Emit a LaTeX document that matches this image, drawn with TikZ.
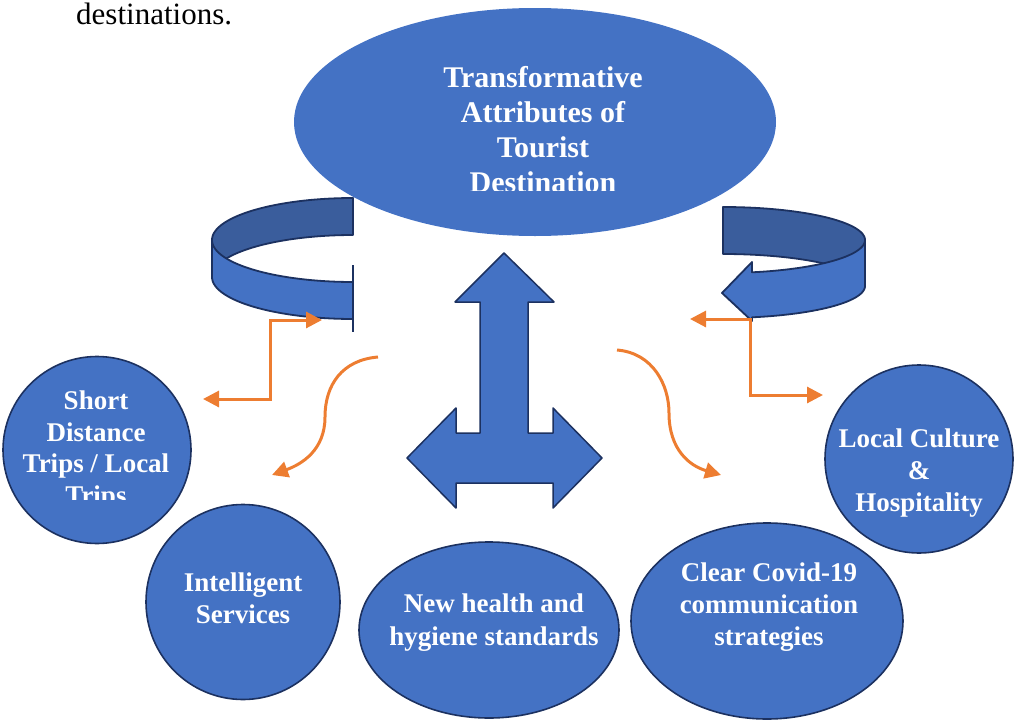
\documentclass[tikz,border=0pt]{standalone}
\usepackage{fontspec}
\setmainfont{Liberation Serif}
\usetikzlibrary{shapes.geometric,arrows.meta}
\definecolor{boxblue}{HTML}{4472C4}
\definecolor{darkband}{HTML}{3A5D9C}
\definecolor{navy}{HTML}{1C3160}
\definecolor{orangec}{HTML}{ED7D31}
\tikzset{
  bubble/.style={ellipse, fill=boxblue, draw=navy, line width=1.6pt, inner sep=0pt},
  bubtext/.style={text=white, font=\bfseries\fontsize{27}{32}\selectfont, align=center, inner sep=0pt, anchor=north},
  bandline/.style={draw=navy, line width=1.8pt, line join=round},
  conn/.style={draw=orangec, line width=3pt},
}
\begin{document}
\begin{tikzpicture}[x=1pt,y=-1pt, >={Triangle[length=16pt,width=16pt]}]
\useasboundingbox (0,0) rectangle (1015,720);
% caption fragment
\node[anchor=base west, inner sep=0pt, font=\fontsize{31}{31}\selectfont] (dest) at (76,24) {destinations.};
% main ellipse
\node[ellipse, fill=boxblue, draw=none, minimum width=482pt, minimum height=228pt, inner sep=0pt] (main) at (535,122) {};
\begin{scope}
  \clip (0,0) rectangle (1015,190);
  \node[text=white, font=\bfseries\fontsize{30}{35}\selectfont, align=center, inner sep=0pt, anchor=north] (maintext) at (543,66)
    {Transformative\\Attributes of\\Tourist\\Destination};
\end{scope}
% left circular band
\path[bandline, fill=darkband]
  plot[domain=270:180, samples=40] ({353+141*cos(\x)},{240+42*sin(\x)})
  -- plot[domain=180:270, samples=40] ({353+141*cos(\x)},{277+42*sin(\x)}) -- cycle;
\path[bandline, fill=boxblue]
  plot[domain=180:90, samples=40] ({353+141*cos(\x)},{240+42*sin(\x)})
  -- plot[domain=90:180, samples=40] ({353+141*cos(\x)},{277+42*sin(\x)}) -- cycle;
\draw[bandline] (353,265) -- (353,332);
% right circular arrow
\path[bandline, fill=darkband]
  plot[domain=270:360, samples=40] ({723+142*cos(\x)},{240+33*sin(\x)})
  -- plot[domain=360:270, samples=40] ({723+142*cos(\x)},{286+32*sin(\x)}) -- cycle;
\path[bandline, fill=boxblue]
  plot[domain=0:78.2, samples=40] ({723+142*cos(\x)},{240+33*sin(\x)})
  -- (752,262) -- (722,293) -- (752,321)
  -- plot[domain=78.2:0, samples=40] ({723+142*cos(\x)},{286+32*sin(\x)}) -- cycle;
% central three-way arrow
\path[bandline, fill=boxblue, line width=1.5pt]
  (504,253) -- (554,302) -- (528,302) -- (528,433) -- (553,433) -- (553,408)
  -- (602,458) -- (553,508) -- (553,483) -- (456,483) -- (456,508) -- (407,458)
  -- (456,408) -- (456,433) -- (480,433) -- (480,302) -- (455,302) -- cycle;
% bubbles
\node[bubble, minimum width=188pt, minimum height=187pt] (short) at (97,450) {};
\begin{scope}
  \clip (0,0) rectangle (1015,499);
  \node[bubtext, font=\bfseries\fontsize{27}{31.5}\selectfont] (shorttext) at (96,391) {Short\\Distance\\Trips / Local\\Trips};
\end{scope}
\node[bubble, minimum width=194pt, minimum height=195pt] (intel) at (243,602) {};
\node[bubtext] (inteltext) at (243,573) {Intelligent\\Services};
\node[bubble, minimum width=260pt, minimum height=176pt] (health) at (489,630) {};
\node[bubtext, font=\bfseries\fontsize{27}{33}\selectfont] (healthtext) at (494,594) {New health and\\hygiene standards};
\node[bubble, minimum width=272pt, minimum height=196pt] (covid) at (767,621) {};
\node[bubtext, font=\bfseries\fontsize{27}{32}\selectfont] (covidtext) at (769,563) {Clear Covid-19\\communication\\strategies};
\node[bubble, minimum width=188pt, minimum height=188pt] (culture) at (919,459) {};
\node[bubtext, font=\bfseries\fontsize{27}{32}\selectfont] (culturetext) at (919,429) {Local Culture\\\&\\Hospitality};
% orange connectors
\coordinate (la) at (322,320);
\coordinate (lbend) at (270,399);
\coordinate (lb) at (203,399);
\draw[conn, <->] (la) -| (lbend) -- (lb);
\coordinate (ra) at (690,319);
\coordinate (rbend) at (750,395);
\coordinate (rb) at (823,395);
\draw[conn, <->] (ra) -| (rbend) -- (rb);
\coordinate (sa) at (378,357);
\coordinate (sm) at (325,417);
\coordinate (sb) at (272,475);
\draw[conn, ->] (sa) .. controls (342,360) and (325,385) .. (sm) .. controls (325,450) and (302,464) .. (sb);
\coordinate (ta) at (617,350);
\coordinate (tm) at (669,413);
\coordinate (tb) at (721,475);
\draw[conn, ->] (ta) .. controls (653,353) and (669,385) .. (tm) .. controls (669,450) and (690,466) .. (tb);
\end{tikzpicture}
\end{document}
